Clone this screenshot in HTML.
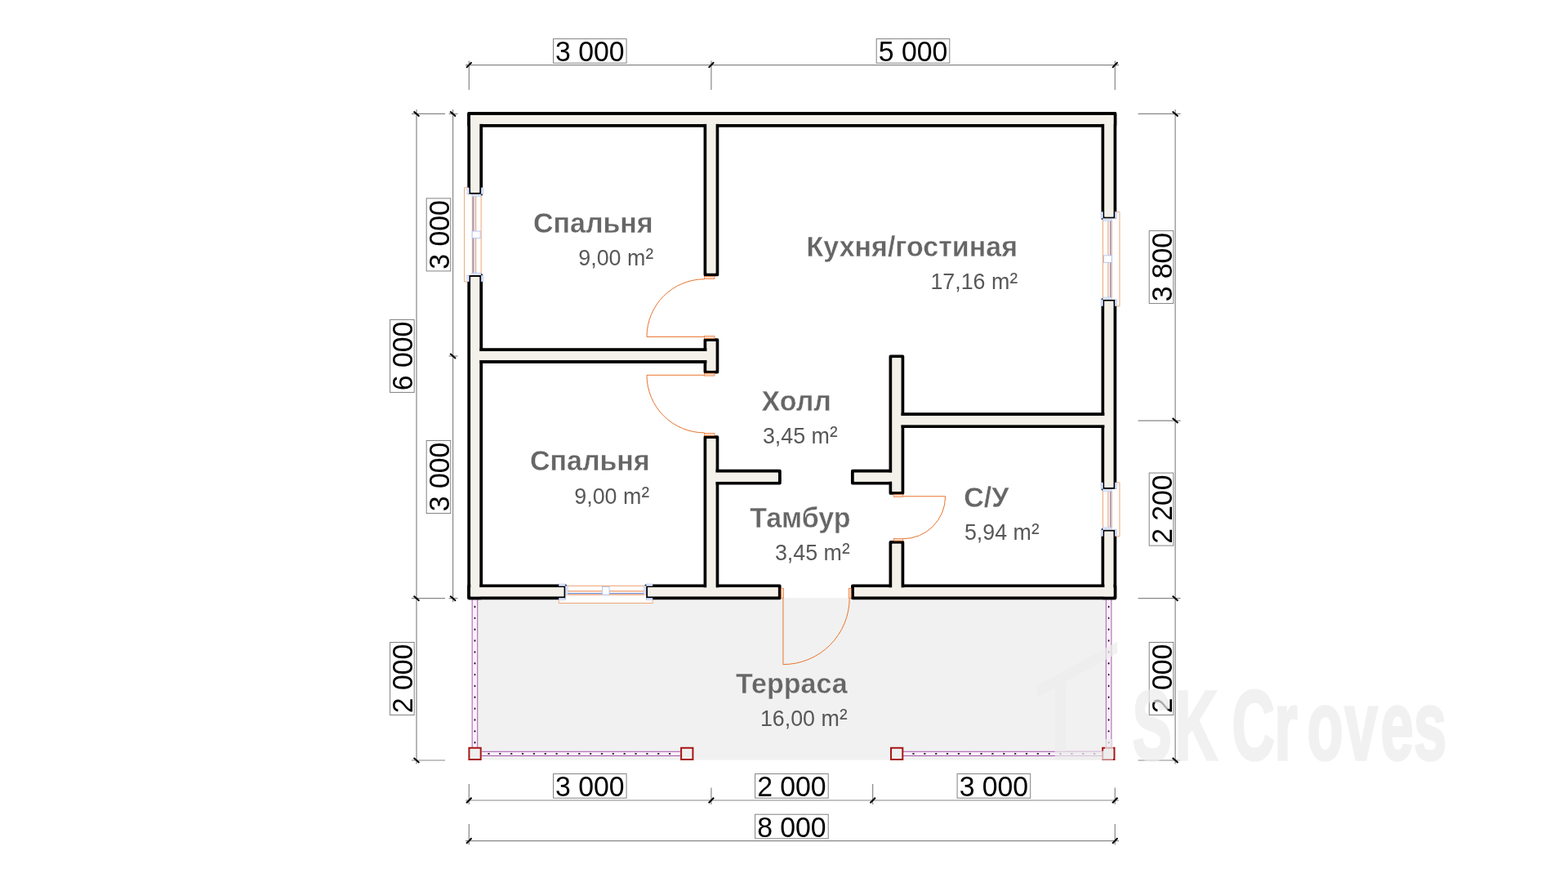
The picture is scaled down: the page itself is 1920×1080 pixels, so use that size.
<!DOCTYPE html>
<html lang="ru">
<head>
<meta charset="utf-8">
<title>План дома 6×8 с террасой</title>
<style>
html,body{margin:0;padding:0;background:#fff;}
body{width:1920px;height:1080px;overflow:hidden;}
svg{display:block;will-change:transform;}
svg text{font-family:"Liberation Sans",Arial,Helvetica,sans-serif;}
</style>
</head>
<body>
<svg width="1920" height="1080" viewBox="0 0 1920 1080" role="img" aria-label="План дома">
<rect width="1920" height="1080" fill="#fff"/>
<rect x="585.6" y="732.25" width="768" height="198.35" fill="#f1f1f1"/>
<rect x="578.15" y="733.75" width="6.6" height="181.25" fill="#faf0fa"/>
<path d="M578.15 733.75V915M584.75 733.75V915" stroke="#9a46a4" stroke-width="0.9" fill="none"/>
<rect x="1354.3" y="733.75" width="6.6" height="181.25" fill="#faf0fa"/>
<path d="M1354.3 733.75V915M1360.9 733.75V915" stroke="#9a46a4" stroke-width="0.9" fill="none"/>
<rect x="590" y="920.3" width="243" height="5.2" fill="#faf0fa"/>
<path d="M590 920.3H833M590 925.5H833" stroke="#9a46a4" stroke-width="0.9" fill="none"/>
<rect x="1106" y="920.3" width="243.5" height="5.2" fill="#faf0fa"/>
<path d="M1106 920.3H1349.5M1106 925.5H1349.5" stroke="#9a46a4" stroke-width="0.9" fill="none"/>
<ellipse cx="581.45" cy="743" rx="0.9" ry="1.2" fill="#1a0a1a"/>
<ellipse cx="581.45" cy="756.85" rx="0.9" ry="1.2" fill="#1a0a1a"/>
<ellipse cx="581.45" cy="770.7" rx="0.9" ry="1.2" fill="#1a0a1a"/>
<ellipse cx="581.45" cy="784.55" rx="0.9" ry="1.2" fill="#1a0a1a"/>
<ellipse cx="581.45" cy="798.4" rx="0.9" ry="1.2" fill="#1a0a1a"/>
<ellipse cx="581.45" cy="812.25" rx="0.9" ry="1.2" fill="#1a0a1a"/>
<ellipse cx="581.45" cy="826.1" rx="0.9" ry="1.2" fill="#1a0a1a"/>
<ellipse cx="581.45" cy="839.95" rx="0.9" ry="1.2" fill="#1a0a1a"/>
<ellipse cx="581.45" cy="853.8" rx="0.9" ry="1.2" fill="#1a0a1a"/>
<ellipse cx="581.45" cy="867.65" rx="0.9" ry="1.2" fill="#1a0a1a"/>
<ellipse cx="581.45" cy="881.5" rx="0.9" ry="1.2" fill="#1a0a1a"/>
<ellipse cx="581.45" cy="895.35" rx="0.9" ry="1.2" fill="#1a0a1a"/>
<ellipse cx="581.45" cy="909.2" rx="0.9" ry="1.2" fill="#1a0a1a"/>
<ellipse cx="1357.6" cy="743" rx="0.9" ry="1.2" fill="#1a0a1a"/>
<ellipse cx="1357.6" cy="756.85" rx="0.9" ry="1.2" fill="#1a0a1a"/>
<ellipse cx="1357.6" cy="770.7" rx="0.9" ry="1.2" fill="#1a0a1a"/>
<ellipse cx="1357.6" cy="784.55" rx="0.9" ry="1.2" fill="#1a0a1a"/>
<ellipse cx="1357.6" cy="798.4" rx="0.9" ry="1.2" fill="#1a0a1a"/>
<ellipse cx="1357.6" cy="812.25" rx="0.9" ry="1.2" fill="#1a0a1a"/>
<ellipse cx="1357.6" cy="826.1" rx="0.9" ry="1.2" fill="#1a0a1a"/>
<ellipse cx="1357.6" cy="839.95" rx="0.9" ry="1.2" fill="#1a0a1a"/>
<ellipse cx="1357.6" cy="853.8" rx="0.9" ry="1.2" fill="#1a0a1a"/>
<ellipse cx="1357.6" cy="867.65" rx="0.9" ry="1.2" fill="#1a0a1a"/>
<ellipse cx="1357.6" cy="881.5" rx="0.9" ry="1.2" fill="#1a0a1a"/>
<ellipse cx="1357.6" cy="895.35" rx="0.9" ry="1.2" fill="#1a0a1a"/>
<ellipse cx="1357.6" cy="909.2" rx="0.9" ry="1.2" fill="#1a0a1a"/>
<ellipse cx="598.5" cy="922.9" rx="1.3" ry="0.9" fill="#1a0a1a"/>
<ellipse cx="612.35" cy="922.9" rx="1.3" ry="0.9" fill="#1a0a1a"/>
<ellipse cx="626.2" cy="922.9" rx="1.3" ry="0.9" fill="#1a0a1a"/>
<ellipse cx="640.05" cy="922.9" rx="1.3" ry="0.9" fill="#1a0a1a"/>
<ellipse cx="653.9" cy="922.9" rx="1.3" ry="0.9" fill="#1a0a1a"/>
<ellipse cx="667.75" cy="922.9" rx="1.3" ry="0.9" fill="#1a0a1a"/>
<ellipse cx="681.6" cy="922.9" rx="1.3" ry="0.9" fill="#1a0a1a"/>
<ellipse cx="695.45" cy="922.9" rx="1.3" ry="0.9" fill="#1a0a1a"/>
<ellipse cx="709.3" cy="922.9" rx="1.3" ry="0.9" fill="#1a0a1a"/>
<ellipse cx="723.15" cy="922.9" rx="1.3" ry="0.9" fill="#1a0a1a"/>
<ellipse cx="737" cy="922.9" rx="1.3" ry="0.9" fill="#1a0a1a"/>
<ellipse cx="750.85" cy="922.9" rx="1.3" ry="0.9" fill="#1a0a1a"/>
<ellipse cx="764.7" cy="922.9" rx="1.3" ry="0.9" fill="#1a0a1a"/>
<ellipse cx="778.55" cy="922.9" rx="1.3" ry="0.9" fill="#1a0a1a"/>
<ellipse cx="792.4" cy="922.9" rx="1.3" ry="0.9" fill="#1a0a1a"/>
<ellipse cx="806.25" cy="922.9" rx="1.3" ry="0.9" fill="#1a0a1a"/>
<ellipse cx="820.1" cy="922.9" rx="1.3" ry="0.9" fill="#1a0a1a"/>
<ellipse cx="1118.5" cy="922.9" rx="1.3" ry="0.9" fill="#1a0a1a"/>
<ellipse cx="1132.35" cy="922.9" rx="1.3" ry="0.9" fill="#1a0a1a"/>
<ellipse cx="1146.2" cy="922.9" rx="1.3" ry="0.9" fill="#1a0a1a"/>
<ellipse cx="1160.05" cy="922.9" rx="1.3" ry="0.9" fill="#1a0a1a"/>
<ellipse cx="1173.9" cy="922.9" rx="1.3" ry="0.9" fill="#1a0a1a"/>
<ellipse cx="1187.75" cy="922.9" rx="1.3" ry="0.9" fill="#1a0a1a"/>
<ellipse cx="1201.6" cy="922.9" rx="1.3" ry="0.9" fill="#1a0a1a"/>
<ellipse cx="1215.45" cy="922.9" rx="1.3" ry="0.9" fill="#1a0a1a"/>
<ellipse cx="1229.3" cy="922.9" rx="1.3" ry="0.9" fill="#1a0a1a"/>
<ellipse cx="1243.15" cy="922.9" rx="1.3" ry="0.9" fill="#1a0a1a"/>
<ellipse cx="1257" cy="922.9" rx="1.3" ry="0.9" fill="#1a0a1a"/>
<ellipse cx="1270.85" cy="922.9" rx="1.3" ry="0.9" fill="#1a0a1a"/>
<ellipse cx="1284.7" cy="922.9" rx="1.3" ry="0.9" fill="#1a0a1a"/>
<ellipse cx="1298.55" cy="922.9" rx="1.3" ry="0.9" fill="#1a0a1a"/>
<ellipse cx="1312.4" cy="922.9" rx="1.3" ry="0.9" fill="#1a0a1a"/>
<ellipse cx="1326.25" cy="922.9" rx="1.3" ry="0.9" fill="#1a0a1a"/>
<ellipse cx="1340.1" cy="922.9" rx="1.3" ry="0.9" fill="#1a0a1a"/>
<rect x="574.4" y="915.8" width="14.3" height="14.2" fill="#efefee" stroke="#a81616" stroke-width="2"/>
<rect x="834.1" y="915.8" width="14.3" height="14.2" fill="#efefee" stroke="#a81616" stroke-width="2"/>
<rect x="1091" y="915.8" width="14.3" height="14.2" fill="#efefee" stroke="#a81616" stroke-width="2"/>
<rect x="1350.2" y="915.8" width="14.3" height="14.2" fill="#efefee" stroke="#a81616" stroke-width="2"/>
<g stroke="#000" stroke-width="3.9" stroke-linejoin="round" fill="#f3f1ea">
<rect x="574.3" y="139" width="791" height="14.83"/>
<rect x="574.3" y="139" width="14.83" height="98.7"/>
<rect x="574.3" y="337" width="14.83" height="395.25"/>
<rect x="1350.47" y="139" width="14.83" height="128.4"/>
<rect x="1350.47" y="366.9" width="14.83" height="231.9"/>
<rect x="1350.47" y="648.8" width="14.83" height="83.45"/>
<rect x="574.3" y="717.42" width="118" height="14.83"/>
<rect x="791.2" y="717.42" width="163.4" height="14.83"/>
<rect x="1044" y="717.42" width="321.3" height="14.83"/>
<rect x="863.51" y="146.42" width="14.83" height="189.98"/>
<rect x="863.51" y="416.1" width="14.83" height="39.5"/>
<rect x="863.51" y="535.2" width="14.83" height="189.63"/>
<rect x="581.72" y="428.21" width="289.21" height="14.83"/>
<rect x="870.92" y="576.78" width="83.88" height="14.83"/>
<rect x="1043.9" y="576.78" width="54" height="14.83"/>
<rect x="1090.48" y="436.4" width="14.83" height="167.5"/>
<rect x="1090.48" y="663.9" width="14.83" height="60.93"/>
<rect x="1097.9" y="507.31" width="259.98" height="14.83"/>
</g>
<g fill="#f3f1ea">
<rect x="576.25" y="140.95" width="787.1" height="10.93"/>
<rect x="576.25" y="140.95" width="10.93" height="94.8"/>
<rect x="576.25" y="338.95" width="10.93" height="391.35"/>
<rect x="1352.42" y="140.95" width="10.93" height="124.5"/>
<rect x="1352.42" y="368.85" width="10.93" height="228"/>
<rect x="1352.42" y="650.75" width="10.93" height="79.55"/>
<rect x="576.25" y="719.37" width="114.1" height="10.93"/>
<rect x="793.15" y="719.37" width="159.5" height="10.93"/>
<rect x="1045.95" y="719.37" width="317.4" height="10.93"/>
<rect x="865.46" y="148.37" width="10.93" height="186.08"/>
<rect x="865.46" y="418.05" width="10.93" height="35.6"/>
<rect x="865.46" y="537.15" width="10.93" height="185.73"/>
<rect x="583.67" y="430.16" width="285.31" height="10.93"/>
<rect x="872.88" y="578.73" width="79.97" height="10.93"/>
<rect x="1045.85" y="578.73" width="50.1" height="10.93"/>
<rect x="1092.43" y="438.35" width="10.93" height="163.6"/>
<rect x="1092.43" y="665.85" width="10.93" height="57.03"/>
<rect x="1099.85" y="509.26" width="256.08" height="10.93"/>
</g>
<rect x="568.63" y="229.7" width="3.72" height="115.3" fill="#fff"/>
<rect x="568.63" y="237.7" width="20.5" height="99.3" fill="#fff"/>
<line x1="568.63" y1="229.7" x2="568.63" y2="345" stroke="#ec9a66" stroke-width="0.9"/>
<line x1="572.4" y1="229.7" x2="568.63" y2="229.7" stroke="#ec9a66" stroke-width="0.8"/>
<line x1="572.4" y1="345" x2="568.63" y2="345" stroke="#ec9a66" stroke-width="0.8"/>
<line x1="589.13" y1="239.6" x2="589.13" y2="335.1" stroke="#ec9a66" stroke-width="0.9"/>
<line x1="582.63" y1="239.6" x2="582.63" y2="335.1" stroke="#ec9a66" stroke-width="1.1"/>
<line x1="579.93" y1="239.6" x2="579.93" y2="335.1" stroke="#6f8fdc" stroke-width="1.3"/>
<line x1="578.43" y1="239.6" x2="578.43" y2="335.1" stroke="#ec9a66" stroke-width="1.1"/>
<rect x="589.23" y="229.9" width="2.2" height="7.6" fill="#eef3fe" stroke="#a9bdf0" stroke-width="0.6"/>
<rect x="572" y="229.9" width="2.2" height="7.6" fill="#eef3fe" stroke="#a9bdf0" stroke-width="0.6"/>
<rect x="577.93" y="238.6" width="11" height="2" fill="#e3ebfd" stroke="#a9bdf0" stroke-width="0.5"/>
<rect x="589.23" y="337.2" width="2.2" height="7.6" fill="#eef3fe" stroke="#a9bdf0" stroke-width="0.6"/>
<rect x="572" y="337.2" width="2.2" height="7.6" fill="#eef3fe" stroke="#a9bdf0" stroke-width="0.6"/>
<rect x="577.93" y="334.1" width="11" height="2" fill="#e3ebfd" stroke="#a9bdf0" stroke-width="0.5"/>
<rect x="578.13" y="283.05" width="10" height="8.6" fill="#fdfdff" stroke="#a9bdf0" stroke-width="0.8"/>
<rect x="1367.25" y="259.4" width="3.72" height="115.5" fill="#fff"/>
<rect x="1350.47" y="267.4" width="20.5" height="99.5" fill="#fff"/>
<line x1="1370.97" y1="259.4" x2="1370.97" y2="374.9" stroke="#ec9a66" stroke-width="0.9"/>
<line x1="1367.2" y1="259.4" x2="1370.97" y2="259.4" stroke="#ec9a66" stroke-width="0.8"/>
<line x1="1367.2" y1="374.9" x2="1370.97" y2="374.9" stroke="#ec9a66" stroke-width="0.8"/>
<line x1="1350.47" y1="269.3" x2="1350.47" y2="365" stroke="#ec9a66" stroke-width="0.9"/>
<line x1="1356.97" y1="269.3" x2="1356.97" y2="365" stroke="#ec9a66" stroke-width="1.1"/>
<line x1="1359.67" y1="269.3" x2="1359.67" y2="365" stroke="#6f8fdc" stroke-width="1.3"/>
<line x1="1361.17" y1="269.3" x2="1361.17" y2="365" stroke="#ec9a66" stroke-width="1.1"/>
<rect x="1348.17" y="259.6" width="2.2" height="7.6" fill="#eef3fe" stroke="#a9bdf0" stroke-width="0.6"/>
<rect x="1365.4" y="259.6" width="2.2" height="7.6" fill="#eef3fe" stroke="#a9bdf0" stroke-width="0.6"/>
<rect x="1350.67" y="268.3" width="11" height="2" fill="#e3ebfd" stroke="#a9bdf0" stroke-width="0.5"/>
<rect x="1348.17" y="367.1" width="2.2" height="7.6" fill="#eef3fe" stroke="#a9bdf0" stroke-width="0.6"/>
<rect x="1365.4" y="367.1" width="2.2" height="7.6" fill="#eef3fe" stroke="#a9bdf0" stroke-width="0.6"/>
<rect x="1350.67" y="364" width="11" height="2" fill="#e3ebfd" stroke="#a9bdf0" stroke-width="0.5"/>
<rect x="1351.47" y="312.85" width="10" height="8.6" fill="#fdfdff" stroke="#a9bdf0" stroke-width="0.8"/>
<rect x="1367.25" y="590.8" width="3.72" height="66" fill="#fff"/>
<rect x="1350.47" y="598.8" width="20.5" height="50" fill="#fff"/>
<line x1="1370.97" y1="590.8" x2="1370.97" y2="656.8" stroke="#ec9a66" stroke-width="0.9"/>
<line x1="1367.2" y1="590.8" x2="1370.97" y2="590.8" stroke="#ec9a66" stroke-width="0.8"/>
<line x1="1367.2" y1="656.8" x2="1370.97" y2="656.8" stroke="#ec9a66" stroke-width="0.8"/>
<line x1="1350.47" y1="600.7" x2="1350.47" y2="646.9" stroke="#ec9a66" stroke-width="0.9"/>
<line x1="1356.97" y1="600.7" x2="1356.97" y2="646.9" stroke="#ec9a66" stroke-width="1.1"/>
<line x1="1359.67" y1="600.7" x2="1359.67" y2="646.9" stroke="#6f8fdc" stroke-width="1.3"/>
<line x1="1361.17" y1="600.7" x2="1361.17" y2="646.9" stroke="#ec9a66" stroke-width="1.1"/>
<rect x="1348.17" y="591" width="2.2" height="7.6" fill="#eef3fe" stroke="#a9bdf0" stroke-width="0.6"/>
<rect x="1365.4" y="591" width="2.2" height="7.6" fill="#eef3fe" stroke="#a9bdf0" stroke-width="0.6"/>
<rect x="1350.67" y="599.7" width="11" height="2" fill="#e3ebfd" stroke="#a9bdf0" stroke-width="0.5"/>
<rect x="1348.17" y="649" width="2.2" height="7.6" fill="#eef3fe" stroke="#a9bdf0" stroke-width="0.6"/>
<rect x="1365.4" y="649" width="2.2" height="7.6" fill="#eef3fe" stroke="#a9bdf0" stroke-width="0.6"/>
<rect x="1350.67" y="645.9" width="11" height="2" fill="#e3ebfd" stroke="#a9bdf0" stroke-width="0.5"/>
<rect x="684.3" y="734.2" width="114.9" height="4.32" fill="#fff"/>
<rect x="692.3" y="717.42" width="98.9" height="21.1" fill="#fff"/>
<line x1="684.3" y1="738.52" x2="799.2" y2="738.52" stroke="#ec9a66" stroke-width="0.9"/>
<line x1="684.3" y1="734.15" x2="684.3" y2="738.52" stroke="#ec9a66" stroke-width="0.8"/>
<line x1="799.2" y1="734.15" x2="799.2" y2="738.52" stroke="#ec9a66" stroke-width="0.8"/>
<line x1="694.2" y1="717.42" x2="789.3" y2="717.42" stroke="#ec9a66" stroke-width="0.9"/>
<line x1="694.2" y1="723.92" x2="789.3" y2="723.92" stroke="#ec9a66" stroke-width="1.1"/>
<line x1="694.2" y1="726.62" x2="789.3" y2="726.62" stroke="#6f8fdc" stroke-width="1.3"/>
<line x1="694.2" y1="728.12" x2="789.3" y2="728.12" stroke="#ec9a66" stroke-width="1.1"/>
<rect x="684.5" y="715.12" width="7.6" height="2.2" fill="#eef3fe" stroke="#a9bdf0" stroke-width="0.6"/>
<rect x="684.5" y="732.35" width="7.6" height="2.2" fill="#eef3fe" stroke="#a9bdf0" stroke-width="0.6"/>
<rect x="693.2" y="717.62" width="2" height="11" fill="#e3ebfd" stroke="#a9bdf0" stroke-width="0.5"/>
<rect x="791.4" y="715.12" width="7.6" height="2.2" fill="#eef3fe" stroke="#a9bdf0" stroke-width="0.6"/>
<rect x="791.4" y="732.35" width="7.6" height="2.2" fill="#eef3fe" stroke="#a9bdf0" stroke-width="0.6"/>
<rect x="788.3" y="717.62" width="2" height="11" fill="#e3ebfd" stroke="#a9bdf0" stroke-width="0.5"/>
<rect x="737.45" y="718.42" width="8.6" height="10" fill="#fdfdff" stroke="#a9bdf0" stroke-width="0.8"/>
<path d="M862.6 412.4H792A70.6 70.6 0 0 1 862.6 341.8" stroke="#e9732c" stroke-width="1.0" fill="none"/>
<rect x="862.6" y="338.4" width="12.4" height="3" fill="#fbd9c3" stroke="#e9732c" stroke-width="0.7"/>
<rect x="862.6" y="411.6" width="12.4" height="3" fill="#fbd9c3" stroke="#e9732c" stroke-width="0.7"/>
<path d="M862.6 459.3H792A70.6 70.6 0 0 0 862.6 529.9" stroke="#e9732c" stroke-width="1.0" fill="none"/>
<rect x="862.6" y="457.1" width="12.4" height="3" fill="#fbd9c3" stroke="#e9732c" stroke-width="0.7"/>
<rect x="862.6" y="530.4" width="12.4" height="3" fill="#fbd9c3" stroke="#e9732c" stroke-width="0.7"/>
<path d="M1105.6 607.8H1157.6A52 52 0 0 1 1105.6 659.8" stroke="#e9732c" stroke-width="1.0" fill="none"/>
<rect x="1094.4" y="605.6" width="11.2" height="2.8" fill="#fbd9c3" stroke="#e9732c" stroke-width="0.7"/>
<rect x="1094.4" y="659.4" width="11.2" height="2.8" fill="#fbd9c3" stroke="#e9732c" stroke-width="0.7"/>
<path d="M958.9 732.2V813.6A81.3 81.3 0 0 0 1040.2 732.2" stroke="#e9732c" stroke-width="1.0" fill="none"/>
<rect x="956.4" y="720.6" width="3" height="11.6" fill="#fbd9c3" stroke="#e9732c" stroke-width="0.7"/>
<rect x="1039.2" y="720.6" width="3" height="11.6" fill="#fbd9c3" stroke="#e9732c" stroke-width="0.7"/>
<g class="dim">
<line x1="570" y1="79.6" x2="1370" y2="79.6" stroke="#878787" stroke-width="1.2"/>
<line x1="574.3" y1="74.6" x2="574.3" y2="110" stroke="#878787" stroke-width="1.2"/>
<line x1="571.1" y1="82.9" x2="577.5" y2="76.3" stroke="#000" stroke-width="2"/>
<line x1="870.92" y1="74.6" x2="870.92" y2="110" stroke="#878787" stroke-width="1.2"/>
<line x1="867.72" y1="82.9" x2="874.12" y2="76.3" stroke="#000" stroke-width="2"/>
<line x1="1365.3" y1="74.6" x2="1365.3" y2="110" stroke="#878787" stroke-width="1.2"/>
<line x1="1362.1" y1="82.9" x2="1368.5" y2="76.3" stroke="#000" stroke-width="2"/>
<rect x="677.5" y="47.6" width="89.6" height="29.6" fill="#fff" stroke="#828282" stroke-width="1"/>
<text transform="translate(722.3 75.4) scale(0.965 1)" font-size="35.0" text-anchor="middle" fill="#000">3 000</text>
<rect x="1073.2" y="47.6" width="89.6" height="29.6" fill="#fff" stroke="#828282" stroke-width="1"/>
<text transform="translate(1118 75.4) scale(0.965 1)" font-size="35.0" text-anchor="middle" fill="#000">5 000</text>
<line x1="570" y1="980" x2="1370" y2="980" stroke="#878787" stroke-width="1.2"/>
<line x1="574.3" y1="960" x2="574.3" y2="985" stroke="#878787" stroke-width="1.2"/>
<line x1="571.1" y1="983.3" x2="577.5" y2="976.7" stroke="#000" stroke-width="2"/>
<line x1="870.92" y1="964.5" x2="870.92" y2="985" stroke="#878787" stroke-width="1.2"/>
<line x1="867.72" y1="983.3" x2="874.12" y2="976.7" stroke="#000" stroke-width="2"/>
<line x1="1068.67" y1="960" x2="1068.67" y2="985" stroke="#878787" stroke-width="1.2"/>
<line x1="1065.47" y1="983.3" x2="1071.88" y2="976.7" stroke="#000" stroke-width="2"/>
<line x1="1365.3" y1="964.5" x2="1365.3" y2="985" stroke="#878787" stroke-width="1.2"/>
<line x1="1362.1" y1="983.3" x2="1368.5" y2="976.7" stroke="#000" stroke-width="2"/>
<rect x="677.5" y="947.6" width="89.6" height="29.6" fill="#fff" stroke="#828282" stroke-width="1"/>
<text transform="translate(722.3 975.4) scale(0.965 1)" font-size="35.0" text-anchor="middle" fill="#000">3 000</text>
<rect x="924.6" y="947.6" width="89.6" height="29.6" fill="#fff" stroke="#828282" stroke-width="1"/>
<text transform="translate(969.4 975.4) scale(0.965 1)" font-size="35.0" text-anchor="middle" fill="#000">2 000</text>
<rect x="1172.1" y="947.6" width="89.6" height="29.6" fill="#fff" stroke="#828282" stroke-width="1"/>
<text transform="translate(1216.9 975.4) scale(0.965 1)" font-size="35.0" text-anchor="middle" fill="#000">3 000</text>
<line x1="570" y1="1029.6" x2="1370" y2="1029.6" stroke="#878787" stroke-width="1.2"/>
<line x1="574.3" y1="1009" x2="574.3" y2="1034.6" stroke="#878787" stroke-width="1.2"/>
<line x1="571.1" y1="1032.9" x2="577.5" y2="1026.3" stroke="#000" stroke-width="2"/>
<line x1="1365.3" y1="1009" x2="1365.3" y2="1034.6" stroke="#878787" stroke-width="1.2"/>
<line x1="1362.1" y1="1032.9" x2="1368.5" y2="1026.3" stroke="#000" stroke-width="2"/>
<rect x="924.6" y="997.2" width="89.6" height="29.6" fill="#fff" stroke="#828282" stroke-width="1"/>
<text transform="translate(969.4 1025) scale(0.965 1)" font-size="35.0" text-anchor="middle" fill="#000">8 000</text>
<line x1="510" y1="134" x2="510" y2="935.6" stroke="#878787" stroke-width="1.2"/>
<line x1="554.6" y1="134" x2="554.6" y2="737.25" stroke="#878787" stroke-width="1.2"/>
<line x1="504" y1="139.4" x2="545" y2="139.4" stroke="#878787" stroke-width="1.2"/>
<line x1="549.6" y1="139.4" x2="560.6" y2="139.4" stroke="#878787" stroke-width="1.2"/>
<line x1="504" y1="732.65" x2="545" y2="732.65" stroke="#878787" stroke-width="1.2"/>
<line x1="549.6" y1="732.65" x2="560.6" y2="732.65" stroke="#878787" stroke-width="1.2"/>
<line x1="504" y1="931" x2="545" y2="931" stroke="#878787" stroke-width="1.2"/>
<line x1="549.6" y1="436.02" x2="560.6" y2="436.02" stroke="#878787" stroke-width="1.2"/>
<line x1="506.6" y1="136.4" x2="513.4" y2="142.4" stroke="#000" stroke-width="2"/>
<line x1="506.6" y1="729.65" x2="513.4" y2="735.65" stroke="#000" stroke-width="2"/>
<line x1="506.6" y1="928" x2="513.4" y2="934" stroke="#000" stroke-width="2"/>
<line x1="551.2" y1="136.4" x2="558" y2="142.4" stroke="#000" stroke-width="2"/>
<line x1="551.2" y1="433.02" x2="558" y2="439.02" stroke="#000" stroke-width="2"/>
<line x1="551.2" y1="729.65" x2="558" y2="735.65" stroke="#000" stroke-width="2"/>
<rect x="477.6" y="391.45" width="29.6" height="89" fill="#fff" stroke="#828282" stroke-width="1"/>
<text transform="translate(505.4 435.95) rotate(-90) scale(0.965 1)" font-size="35.0" text-anchor="middle" fill="#000">6 000</text>
<rect x="477.6" y="786.5" width="29.6" height="89" fill="#fff" stroke="#828282" stroke-width="1"/>
<text transform="translate(505.4 831) rotate(-90) scale(0.965 1)" font-size="35.0" text-anchor="middle" fill="#000">2 000</text>
<rect x="522.2" y="242.9" width="29.6" height="89" fill="#fff" stroke="#828282" stroke-width="1"/>
<text transform="translate(550 287.4) rotate(-90) scale(0.965 1)" font-size="35.0" text-anchor="middle" fill="#000">3 000</text>
<rect x="522.2" y="539.5" width="29.6" height="89" fill="#fff" stroke="#828282" stroke-width="1"/>
<text transform="translate(550 584) rotate(-90) scale(0.965 1)" font-size="35.0" text-anchor="middle" fill="#000">3 000</text>
<line x1="1439.1" y1="134" x2="1439.1" y2="935.6" stroke="#878787" stroke-width="1.2"/>
<line x1="1393.6" y1="139.4" x2="1445.6" y2="139.4" stroke="#878787" stroke-width="1.2"/>
<line x1="1435.7" y1="136.4" x2="1442.5" y2="142.4" stroke="#000" stroke-width="2"/>
<line x1="1393.6" y1="515.12" x2="1445.6" y2="515.12" stroke="#878787" stroke-width="1.2"/>
<line x1="1435.7" y1="512.12" x2="1442.5" y2="518.12" stroke="#000" stroke-width="2"/>
<line x1="1393.6" y1="732.65" x2="1445.6" y2="732.65" stroke="#878787" stroke-width="1.2"/>
<line x1="1435.7" y1="729.65" x2="1442.5" y2="735.65" stroke="#000" stroke-width="2"/>
<line x1="1393.6" y1="931" x2="1445.6" y2="931" stroke="#878787" stroke-width="1.2"/>
<line x1="1435.7" y1="928" x2="1442.5" y2="934" stroke="#000" stroke-width="2"/>
<rect x="1407.2" y="282.6" width="29.6" height="89" fill="#fff" stroke="#828282" stroke-width="1"/>
<text transform="translate(1435 327.1) rotate(-90) scale(0.965 1)" font-size="35.0" text-anchor="middle" fill="#000">3 800</text>
<rect x="1407.2" y="579.1" width="29.6" height="89" fill="#fff" stroke="#828282" stroke-width="1"/>
<text transform="translate(1435 623.6) rotate(-90) scale(0.965 1)" font-size="35.0" text-anchor="middle" fill="#000">2 200</text>
<rect x="1407.2" y="786.5" width="29.6" height="89" fill="#fff" stroke="#828282" stroke-width="1"/>
<text transform="translate(1435 831) rotate(-90) scale(0.965 1)" font-size="35.0" text-anchor="middle" fill="#000">2 000</text>
</g>
<text transform="translate(799.7 284.6) scale(0.96 1)" font-size="35.4" font-weight="bold" text-anchor="end" fill="#666" stroke="#fff" stroke-width="0.35">Спальня</text>
<text transform="translate(800.2 325) scale(0.962 1)" font-size="27.9" text-anchor="end" fill="#585858">9,00 m<tspan font-size="30.2" dx="0.2" dy="0.4">²</tspan></text>
<text transform="translate(1246 314.1) scale(0.96 1)" font-size="35.4" font-weight="bold" text-anchor="end" fill="#666" stroke="#fff" stroke-width="0.35">Кухня/гостиная</text>
<text transform="translate(1246.2 354.2) scale(0.962 1)" font-size="27.9" text-anchor="end" fill="#585858">17,16 m<tspan font-size="30.2" dx="0.2" dy="0.4">²</tspan></text>
<text transform="translate(795.7 576.3) scale(0.96 1)" font-size="35.4" font-weight="bold" text-anchor="end" fill="#666" stroke="#fff" stroke-width="0.35">Спальня</text>
<text transform="translate(795.2 616.9) scale(0.962 1)" font-size="27.9" text-anchor="end" fill="#585858">9,00 m<tspan font-size="30.2" dx="0.2" dy="0.4">²</tspan></text>
<text transform="translate(1037.6 849) scale(0.96 1)" font-size="35.4" font-weight="bold" text-anchor="end" fill="#666" stroke="#f1f1f1" stroke-width="0.35">Терраса</text>
<text transform="translate(1037.7 889) scale(0.962 1)" font-size="27.9" text-anchor="end" fill="#585858">16,00 m<tspan font-size="30.2" dx="0.2" dy="0.4">²</tspan></text>
<text transform="translate(1017.9 502.7) scale(0.96 1)" font-size="35.4" font-weight="bold" text-anchor="end" fill="#666" stroke="#fff" stroke-width="0.35">Холл</text>
<text transform="translate(1025.8 542.5) scale(0.962 1)" font-size="27.9" text-anchor="end" fill="#585858">3,45 m<tspan font-size="30.2" dx="0.2" dy="0.4">²</tspan></text>
<text transform="translate(1041.5 645.7) scale(0.96 1)" font-size="35.4" font-weight="bold" text-anchor="end" fill="#666" stroke="#fff" stroke-width="0.35">Тамбур</text>
<text transform="translate(1040.8 685.8) scale(0.962 1)" font-size="27.9" text-anchor="end" fill="#585858">3,45 m<tspan font-size="30.2" dx="0.2" dy="0.4">²</tspan></text>
<text transform="translate(1235.3 620.8) scale(0.96 1)" font-size="35.4" font-weight="bold" text-anchor="end" fill="#666" stroke="#fff" stroke-width="0.35">С/У</text>
<text transform="translate(1272.8 661.2) scale(0.962 1)" font-size="27.9" text-anchor="end" fill="#585858">5,94 m<tspan font-size="30.2" dx="0.2" dy="0.4">²</tspan></text>
<g opacity="0.72" fill="#ededed">
<path d="M1269.7 839.5 L1368 785.7 L1368 800 L1305 834.5 L1305 919.5 L1353 919.5 L1353 905 L1363 905 L1363 930.5 L1291.7 930.5 L1291.7 841.8 L1269.7 853.8 Z"/>
<text transform="translate(0 929.6) scale(0.6 1)" x="2310.83 2397.5 2436.67 2514.17 2600.83 2667.5 2744.17 2817.5 2885" font-size="121" font-weight="bold" stroke="#ededed" stroke-width="3.5" stroke-linejoin="miter">SK Croves</text>
</g>
</svg>
</body>
</html>
